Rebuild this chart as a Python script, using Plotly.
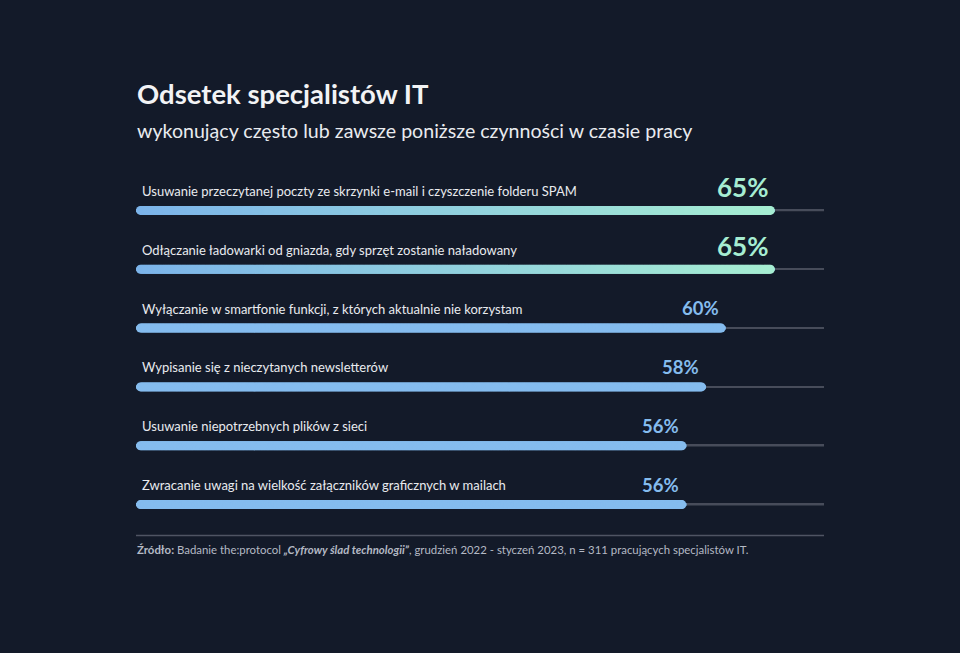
import numpy as np
import plotly.graph_objects as go

# ---- data ----
categories = [
    "Usuwanie przeczytanej poczty ze skrzynki e-mail i czyszczenie folderu SPAM",
    "Odłączanie ładowarki od gniazda, gdy sprzęt zostanie naładowany",
    "Wyłączanie w smartfonie funkcji, z których aktualnie nie korzystam",
    "Wypisanie się z nieczytanych newsletterów",
    "Usuwanie niepotrzebnych plików z sieci",
    "Zwracanie uwagi na wielkość załączników graficznych w mailach",
]
values = [65, 65, 60, 58, 56, 56]
value_labels = ["65%", "65%", "60%", "58%", "56%", "56%"]
axis_max = 70

title = "Odsetek specjalistów IT"
subtitle = "wykonujący często lub zawsze poniższe czynności w czasie pracy"
source = ("<b>Źródło:</b> Badanie the:protocol <b><i>„Cyfrowy ślad technologii”</i></b>, "
          "grudzień 2022 - styczeń 2023, n = 311 pracujących specjalistów IT.")

# ---- style ----
BG = "#131a29"
BLUE = "#85bcee"
MINT = "#a6edd2"
GRAD_START = "#7cb4ea"
TRACK = "#474c5a"
TEXT = "#e9ebef"
FONT = "Lato"

W, H = 960, 653
M_L, M_R = 136, 136
M_T, M_B = 180.5, 118.5
plot_w = W - M_L - M_R
plot_h = H - M_T - M_B
px_per_unit = plot_w / axis_max
bar_px = 9
row_px = plot_h / len(categories)


def py(p):  # figure pixel y -> paper y
    return (H - M_B - p) / plot_h


vmax = max(values)
highlight = [v == vmax for v in values]

fig = go.Figure()

# track lines
fig.add_trace(go.Bar(
    y=categories, x=[axis_max] * len(categories), orientation="h",
    width=1.6 / row_px, marker=dict(color=TRACK, line=dict(width=0)),
    hoverinfo="skip", showlegend=False,
))

# value bars (core)
fig.add_trace(go.Bar(
    y=categories, x=values, orientation="h",
    width=3 / row_px,
    marker=dict(color=[GRAD_START if h else BLUE for h in highlight], line=dict(width=0)),
    showlegend=False,
))

# rounded caps + gradient body
r = (bar_px / 2) / px_per_unit
for cat, v, h in zip(categories, values, highlight):
    xs = np.linspace(r, v - r, 500)
    if h:
        mk = dict(size=bar_px, color=xs, cmin=r, cmax=v - r,
                  colorscale=[[0, GRAD_START], [1, MINT]], line=dict(width=0))
    else:
        mk = dict(size=bar_px, color=BLUE, line=dict(width=0))
    fig.add_trace(go.Scatter(
        x=xs, y=[cat] * len(xs), mode="markers", marker=mk,
        hoverinfo="skip", showlegend=False,
    ))

annotations = []
for cat, v, lab, h in zip(categories, values, value_labels, highlight):
    annotations.append(dict(
        x=0, y=cat, xref="x", yref="y", text=cat, showarrow=False,
        xanchor="left", yanchor="middle", xshift=4, yshift=19.5,
        font=dict(family=FONT, size=13, color=TEXT),
    ))
    annotations.append(dict(
        x=v, y=cat, xref="x", yref="y", text=f"<b>{lab}</b>", showarrow=False,
        xanchor="right", yanchor="middle", xshift=-5,
        yshift=23.5 if h else 20,
        font=dict(family=FONT, size=26 if h else 18.5, color=MINT if h else BLUE),
    ))

annotations += [
    dict(x=0, y=py(93), xref="paper", yref="paper", text=f"<b>{title}</b>",
         showarrow=False, xanchor="left", yanchor="middle", xshift=-1,
         font=dict(family=FONT, size=27.5, color="#f2f3f5")),
    dict(x=0, y=py(130), xref="paper", yref="paper", text=subtitle,
         showarrow=False, xanchor="left", yanchor="middle", xshift=-1,
         font=dict(family=FONT, size=19.6, color=TEXT)),
    dict(x=0, y=py(550), xref="paper", yref="paper", text=source,
         showarrow=False, xanchor="left", yanchor="middle", xshift=-1,
         font=dict(family=FONT, size=11.4, color="#b4b9c4")),
]

fig.update_layout(
    width=W, height=H,
    margin=dict(l=M_L, r=M_R, t=M_T, b=M_B, pad=0),
    paper_bgcolor=BG, plot_bgcolor=BG,
    barmode="overlay",
    xaxis=dict(range=[0, axis_max], visible=False, fixedrange=True),
    yaxis=dict(type="category", categoryorder="array", categoryarray=categories,
               range=[len(categories) - 0.5, -0.5], visible=False, fixedrange=True),
    annotations=annotations,
    shapes=[dict(type="line", xref="paper", yref="paper", x0=0, x1=1, y0=py(536), y1=py(536),
                 line=dict(color="#4f5463", width=1.5))],
    font=dict(family=FONT),
)

fig.write_html("out.html")
